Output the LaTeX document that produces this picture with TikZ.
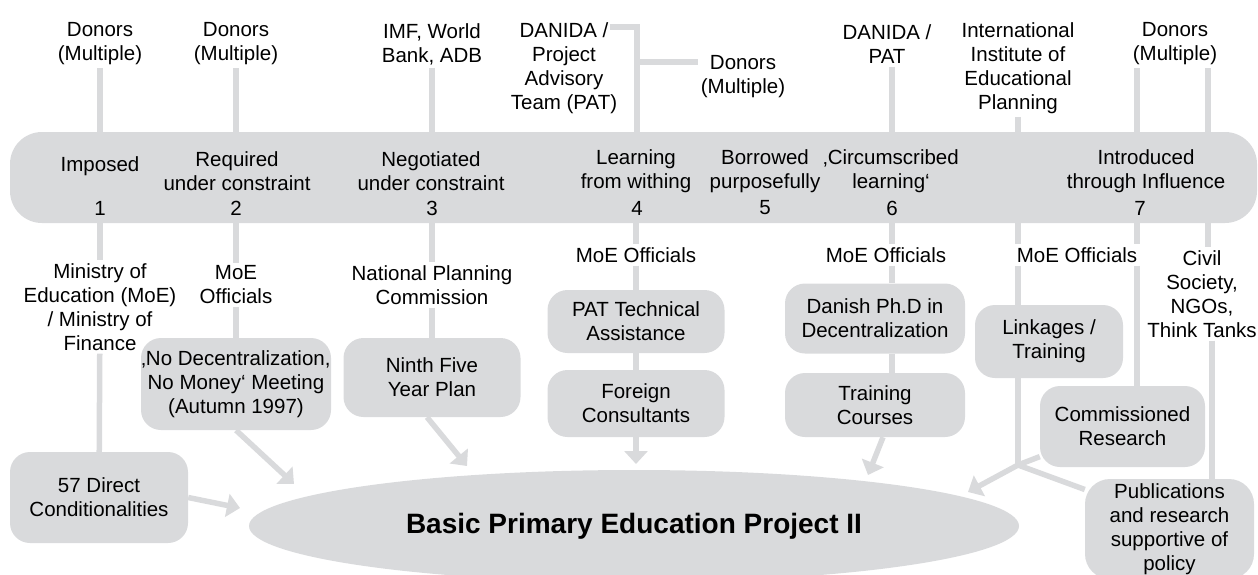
\documentclass[tikz,border=0pt]{standalone}
\usepackage{fontspec}
\setmainfont{Liberation Sans}
\usetikzlibrary{shapes.geometric,arrows.meta}
\definecolor{lightgrey}{RGB}{217,218,220}

\begin{document}
\begin{tikzpicture}[x=1pt, y=-1pt,
	every node/.style={font=\fontsize{20.5}{24}\selectfont, align=center, inner sep=3pt},
	box/.style={fill=lightgrey, rounded corners=20pt, inner sep=0pt},
	link/.style={draw=lightgrey, line width=5.5pt},
	arr/.style={link, -{Triangle[width=23pt,length=13pt]}}]

	\useasboundingbox (0, 0) rectangle (1258, 574);

	% columns of the band
	\coordinate (c1)  at (100, 178);
	\coordinate (c2)  at (236, 178);
	\coordinate (c3)  at (432, 178);
	\coordinate (c4)  at (636, 178);
	\coordinate (c6)  at (892, 178);
	\coordinate (c7a) at (1018, 178);
	\coordinate (c7b) at (1137, 178);
	\coordinate (c7c) at (1208, 178);
	\coordinate (c7d) at (1212, 178);

	\node[box, rounded corners=32pt, minimum width=1247pt, minimum height=91pt] (band) at (633.5, 177.5) {};

	\node (t1) at (100, 166)  {Imposed};
	\node (t2) at (237, 171)  {Required\\under constraint};
	\node (t3) at (431, 171)  {Negotiated\\under constraint};
	\node (t4) at (636, 171)  {Learning\\from withing};
	\node (t5) at (765, 171)  {Borrowed\\purposefully};
	\node (t6) at (891, 171)  {‚Circumscribed\\learning‘};
	\node (t7) at (1146, 171) {Introduced\\through Influence};

	\node (n1) at (100, 208)  {1};
	\node (n2) at (236, 208)  {2};
	\node (n3) at (432, 208)  {3};
	\node (n4) at (637, 208)  {4};
	\node (n5) at (765, 208)  {5};
	\node (n6) at (892, 208)  {6};
	\node (n7) at (1140, 208) {7};

	% who brought it in
	\node (don1)   at (100, 44)  {Donors\\(Multiple)};
	\node (don2)   at (236, 44)  {Donors\\(Multiple)};
	\node (imf)    at (432, 44)  {IMF, World\\Bank, ADB};
	\node (pat)    at (564, 68)  {DANIDA /\\Project\\Advisory\\Team (PAT)};
	\node (don4)   at (743, 77)  {Donors\\(Multiple)};
	\node (danpat) at (887, 44)  {DANIDA /\\PAT};
	\node (iiep)   at (1018, 68) {International\\Institute of\\Educational\\Planning};
	\node (don7)   at (1175, 44) {Donors\\(Multiple)};

	\coordinate (patA) at (610, 27);
	\coordinate (patB) at (637, 27);

	% who took it up
	\node (min)  at (100, 307)  {Ministry of\\Education (MoE)\\/ Ministry of\\Finance};
	\node (moe2) at (236, 285)  {MoE\\Officials};
	\node (npc)  at (432, 285)  {National Planning\\Commission};
	\node (moe4) at (636, 255)  {MoE Officials};
	\node (moe6) at (886, 255)  {MoE Officials};
	\node (moe7) at (1077, 255) {MoE Officials};
	\node (civ)  at (1202, 294) {Civil\\Society,\\NGOs,\\Think Tanks};

	% channels
	\node[box, minimum width=178pt, minimum height=91pt] (cond)     at (99, 497.5)   {57 Direct\\Conditionalities};
	\node[box, minimum width=190pt, minimum height=92pt] (meet)     at (236, 384)    {‚No Decentralization,\\No Money‘ Meeting\\(Autumn 1997)};
	\node[box, minimum width=177pt, minimum height=79pt] (plan)     at (432, 377.5)  {Ninth Five\\Year Plan};
	\node[box, minimum width=177pt, minimum height=63pt] (tech)     at (636, 321.5)  {PAT Technical\\Assistance};
	\node[box, minimum width=177pt, minimum height=67pt] (cons)     at (636, 403.5)  {Foreign\\Consultants};
	\node[box, minimum width=180pt, minimum height=70pt] (phd)      at (875, 318.5)  {Danish Ph.D in\\Decentralization};
	\node[box, minimum width=180pt, minimum height=64pt] (course)   at (875, 405)    {Training\\Courses};
	\node[box, minimum width=148pt, minimum height=73pt] (linkage)  at (1049, 341.5) {Linkages /\\Training};
	\node[box, minimum width=165pt, minimum height=81pt] (research) at (1122.5, 426.5) {Commissioned\\Research};
	\node[box, rounded corners=25pt, minimum width=169pt, minimum height=100pt] (publ) at (1169.5, 529) {Publications\\and research\\supportive of\\policy};

	\node[ellipse, fill=lightgrey, inner sep=0pt, minimum width=770pt, minimum height=112pt,
		font=\bfseries\fontsize{28}{32}\selectfont] (bpep) at (634, 526) {Basic Primary Education Project II};

	\coordinate (jn)   at (1018, 465);
	\coordinate (tip1) at (240, 508);
	\coordinate (tip2) at (294, 484);
	\coordinate (tip3) at (467, 466);
	\coordinate (tip4) at (636, 464);
	\coordinate (tip6) at (868, 475);
	\coordinate (tip7) at (968, 492);

	% lines above the band
	\path[link] (don1) edge (don1 |- band.north);
	\path[link] (don2) edge (don2 |- band.north);
	\path[link] (imf) edge (imf |- band.north);
	\draw[link] (patA) -- (patB) -- (band.north -| patB);
	\draw[link] ([yshift=15pt]don4.west) -- ([yshift=15pt]don4.west -| patB);
	\path[link] (danpat.south -| c6) edge (band.north -| c6);
	\path[link] (iiep) edge (iiep |- band.north);
	\path[link] (don7.south -| c7b) edge (band.north -| c7b);
	\path[link] (don7.south -| c7c) edge (band.north -| c7c);

	% lines below the band
	\path[link] (band.south -| c1) edge (min.north -| c1);
	\path[link] (min) edge (cond);
	\path[link] (band.south -| c2) edge (moe2.north -| c2);
	\path[link] (moe2) edge (meet);
	\path[link] (band.south -| c3) edge (npc.north -| c3);
	\path[link] (npc) edge (plan);
	\path[link] (band.south -| c4) edge (moe4.north -| c4);
	\path[link] (moe4) edge (tech);
	\path[link] (tech) edge (cons);
	\path[link] (band.south -| c6) edge (moe6.north -| c6);
	\path[link] (moe6.south -| c6) edge (phd.north -| c6);
	\path[link] (phd.south -| c6) edge (course.north -| c6);
	\path[link] (band.south -| c7a) edge (moe7.north -| c7a);
	\path[link] (moe7.south -| c7a) edge (linkage.north -| c7a);
	\path[link] (band.south -| c7b) edge (moe7.north -| c7b);
	\path[link] (moe7.south -| c7b) edge (research.north -| c7b);
	\path[link] (band.south -| c7c) edge (civ.north -| c7c);
	\path[link] (civ.south -| c7d) edge (publ.north -| c7d);
	\path[link] (linkage.south -| jn) edge (jn);
	\path[link] (research.200) edge (jn);
	\path[link] (jn) edge (publ.155);

	% arrows into the project
	\draw[arr] (cond.east) -- (tip1);
	\draw[arr] (meet.south) -- (tip2);
	\draw[arr] ([xshift=-5pt]plan.south) -- (tip3);
	\draw[arr] (cons) -- (tip4);
	\draw[arr] ([xshift=8pt]course.south) -- (tip6);
	\draw[arr] (jn) -- (tip7);

\end{tikzpicture}
\end{document}
